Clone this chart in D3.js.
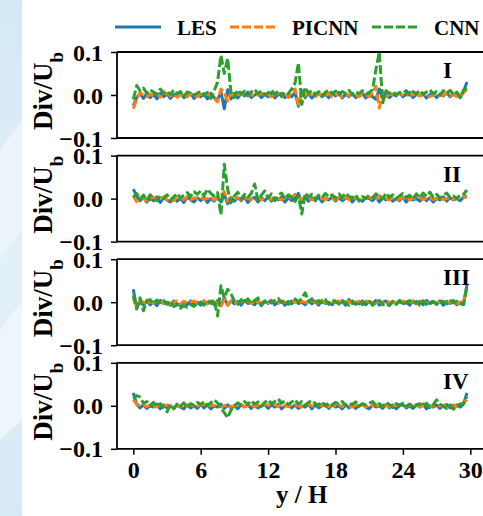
<!DOCTYPE html>
<html>
<head>
<meta charset="utf-8">
<script src="https://cdn.jsdelivr.net/npm/d3@7"></script>
<style>
  body { margin: 0; background: #fff; }
  text { font-family: "Liberation Serif", "Times New Roman", serif; font-weight: bold; }
</style>
</head>
<body>
<div id="fig"></div>
<script>
// values in units of 1e-3 (Div/Ub), sampled every 0.3 y/H from 0 to 29.7
var panels = ["I", "II", "III", "IV"];
var seriesNames = ["LES", "PICNN", "CNN"];
var xTicks = [0, 6, 12, 18, 24, 30];
var yTicks = [-0.1, 0.0, 0.1];
var yH = d3.range(0, 100).map(i => +(i * 0.3).toFixed(1));

var les1 = [-25,-6,4,-8,3,-6,1,-9,4,-4, 2,-8,1,-4,6,-6,-2,4,-8,0, -4,3,-9,4,-6,-12,8,-32,12,-9,
  4,-7,5,-2,7,-6,0,4,-6,2, -4,5,-7,1,4,-6,2,-4,6,-26, 10,-6,4,-7,1,5,-4,2,-6,4,
  -2,6,-7,2,-4,4,-6,1,4,-7, 2,-4,-10,14,-8,4,-6,2,-2,5, -4,1,6,-6,2,-2,4,-7,1,4, -6,2,-2,5,-4,1,4,-6,8,30];
var pic1 = [-32,-10,5,0,-4,2,-2,4,-5,1, 4,-2,2,-5,0,4,-4,2,0,-4, 2,-2,4,-5,-8,-16,14,6,-14,5,
  -4,2,0,4,-2,2,-4,1,4,-2, 2,-4,0,4,-2,5,-6,10,14,-22, 6,-2,4,0,-4,2,0,-2,4,-4,
  2,0,-4,4,-2,2,0,-4,2,0, -4,6,20,-30,8,-4,2,0,-2,4, 0,-2,2,0,4,-2,0,2,-4,0, 2,-2,0,4,-2,2,-4,0,5,14];
var cnn1 = [-10,22,10,16,4,12,7,2,14,5, 9,1,12,3,8,-4,7,5,0,4, 9,-2,6,-8,10,30,92,50,85,5,
  -6,12,2,9,-2,7,13,3,10,0, 5,12,2,9,-4,7,3,14,28,75, -22,18,4,11,1,8,-2,6,12,3,
  9,1,8,4,11,0,7,3,10,2, 6,12,60,100,-18,10,3,8,1,6, 4,10,0,8,3,11,1,7,12,3, 8,0,10,4,11,1,7,-6,12,14];

var les2 = [22,6,-5,3,-8,0,-5,4,-9,2, -3,-8,3,-6,0,-9,4,-3,-8,2, -5,3,-9,0,-6,4,-8,10,-12,3,
  -6,2,-5,4,-9,0,3,-8,2,-5, 4,-6,0,-3,3,-8,2,-5,0,12, -9,3,-6,2,-5,4,-8,0,-3,4,
  -6,2,-5,0,3,-8,2,-3,-6,3, 0,-5,4,-8,2,-3,3,-6,0,-5, 3,-8,2,-3,0,-6,3,-5,2,-8, 0,-3,4,-6,2,-3,0,-5,3,6];
var pic2 = [6,-7,3,0,-5,2,3,-3,0,4, -3,2,-5,3,0,-2,4,-3,2,0, 3,-2,0,4,-3,2,6,16,-6,3,
  0,2,-3,3,0,-2,3,2,-3,0, 2,-2,3,0,-3,2,0,3,10,4, -2,2,0,-3,2,3,0,-2,2,0,
  -3,2,0,3,-2,0,2,-3,0,2, 3,0,-2,7,2,0,-3,2,0,-2, 2,0,-3,2,0,3,-2,0,2,-2, 0,3,-2,0,2,-2,3,0,2,4];
var cnn2 = [3,12,-2,8,-4,9,1,-5,6,0, 9,-4,4,12,1,8,14,5,16,10, 18,7,22,12,6,14,-38,80,22,-10,
  6,15,-1,10,3,12,34,-4,8,18, 2,11,-5,8,13,-1,9,3,-7,6, -36,13,4,10,-1,8,2,12,4,9,
  1,11,3,13,5,2,9,-6,5,0, 8,2,11,4,-1,13,3,9,1,6, 12,3,8,-1,11,2,13,5,15,3, 10,1,8,13,2,6,0,9,10,20];

var les3 = [30,-14,4,-7,3,-6,1,-8,4,-3, 0,-7,3,-4,-8,2,-6,3,-4,0, -7,3,-4,2,-6,4,-8,10,-7,3,
  -4,2,-7,4,-3,0,-6,3,-8,2, -3,4,-6,0,3,-7,2,-4,6,-3, 0,-6,3,-4,2,-7,4,-3,0,-6,
  3,-4,2,-7,6,-3,0,-4,3,-6, 2,-3,4,-7,0,3,-6,2,-4,4, -3,0,-7,3,-4,2,-6,4,-3,0, -4,3,-7,2,-3,4,-6,0,-4,40];
var pic3 = [10,-9,3,0,-4,2,-3,3,0,-2, 2,-3,0,3,-4,2,-2,0,3,-3, 0,2,-3,3,-2,0,-9,6,-7,3,
  0,-2,2,0,3,-3,2,0,-2,3, -2,0,3,-3,2,0,-2,3,0,-2, 2,0,-3,3,0,-2,2,0,-3,2,
  0,3,-2,0,2,-3,0,2,-2,3, 0,-2,2,0,-3,3,0,-2,2,0, 3,-2,0,2,-3,0,3,-2,0,2, -2,0,3,-2,0,2,-3,0,3,30];
var cnn3 = [16,-16,10,-20,4,6,-4,5,-1,4, -5,3,-10,-7,-14,-8,-12,-5,-10,-3, 0,-7,4,-3,6,-32,38,10,30,20,
  2,-5,6,-1,8,-3,4,10,-6,3, 6,-2,4,9,-1,5,-5,3,8,1, 9,22,2,8,-3,4,-1,6,-5,5,
  1,-4,4,-1,-7,3,-5,2,-6,0, 3,-7,-1,4,-6,-3,-8,2,-5,3, -6,0,4,-4,2,-7,3,-5,0,2, -5,3,0,-4,4,-2,2,-3,-6,38];

var les4 = [30,3,-5,2,-6,0,-3,4,-7,2, -5,0,-6,3,-3,-7,2,-5,0,-6, 3,-5,2,-7,0,-3,4,-6,2,-5,
  0,-7,3,-3,2,-6,4,-5,0,3, -6,2,-3,4,-7,0,3,-5,2,-6, 0,-3,4,-7,2,-5,0,3,-6,2,
  -3,0,-7,3,-5,2,-6,0,4,-3, -7,2,-3,0,-6,3,-5,2,-7,0, 3,-5,0,-6,2,-3,4,-7,0,-3, 2,-6,0,3,-5,-2,2,-3,4,30];
var pic4 = [14,4,0,3,-2,2,0,-3,3,0, 2,-2,3,0,-3,2,0,3,-2,0, 2,3,-2,4,0,2,-3,0,3,-2,
  0,3,2,-2,0,3,-3,2,0,4, 2,0,3,-2,4,0,-2,3,2,0, -3,2,4,0,-2,3,0,2,-2,3,
  0,2,-2,3,0,-3,2,0,3,-2, 2,0,3,-2,0,2,-3,0,2,3, 0,-2,2,0,3,-2,0,3,-2,0, 2,0,-2,3,0,2,-2,4,6,15];
var cnn4 = [16,24,20,6,10,1,8,-2,5,-5, -14,3,-7,4,-1,7,-4,5,1,8, 3,10,1,7,14,7,-6,-16,-28,-10,
  0,7,2,10,3,12,4,9,-1,8, 14,5,10,16,6,12,3,9,14,4, 10,1,8,12,5,2,10,-1,6,2,
  8,4,10,0,6,3,9,-1,5,2, 6,10,0,5,-2,8,3,-4,5,1, 6,-1,4,-5,2,5,-1,6,-4,3, 14,4,-1,-6,2,-8,0,4,6,22];

var panelData = [[les1, pic1, cnn1], [les2, pic2, cnn2], [les3, pic3, cnn3], [les4, pic4, cnn4]];
var colors = ["#1f77b4", "#ff7f0e", "#2ca02c"];
var dashes = [null, "9,3", "9,3"];

var W = 483, H = 516;
var svg = d3.select("#fig").append("svg")
    .attr("width", W).attr("height", H);

// pale blue backdrop strip on the left
var grad = svg.append("defs").append("linearGradient")
    .attr("id", "bg").attr("x1", 0).attr("y1", 0).attr("x2", 0).attr("y2", 1);
grad.append("stop").attr("offset", "0%").attr("stop-color", "#d3e8f5");
grad.append("stop").attr("offset", "50%").attr("stop-color", "#e2f0f8");
grad.append("stop").attr("offset", "100%").attr("stop-color", "#d6eaf6");
svg.append("rect").attr("x", 0).attr("y", 0).attr("width", 22).attr("height", H).attr("fill", "url(#bg)");
svg.append("polygon").attr("points", "0,150 22,120 22,230 0,260").attr("fill", "#eaf4fa");
svg.append("polygon").attr("points", "0,330 22,300 22,420 0,440").attr("fill", "#edf6fb");

var left = 117, top0 = 52, ph = 86, gap = 17.6;
var x = d3.scaleLinear().domain([0, 30]).range([133.3, 470.3]);

panels.forEach(function(name, p) {
  var t = top0 + p * (ph + gap);
  var y = d3.scaleLinear().domain([-0.1, 0.1]).range([t + ph, t]);
  var g = svg.append("g");

  g.append("clipPath").attr("id", "clip" + p)
    .append("rect").attr("x", left).attr("y", t).attr("width", W).attr("height", ph);

  var line = d3.line().x((d, i) => x(yH[i])).y(d => y(d / 1000));
  panelData[p].forEach(function(vals, s) {
    g.append("path")
      .datum(vals)
      .attr("d", line)
      .attr("clip-path", "url(#clip" + p + ")")
      .attr("fill", "none")
      .attr("stroke", colors[s])
      .attr("stroke-width", 3)
      .attr("stroke-dasharray", dashes[s])
      .attr("stroke-linejoin", "round");
  });

  // frame
  g.append("line").attr("x1", left).attr("x2", W + 5).attr("y1", t).attr("y2", t)
    .attr("stroke", "#000").attr("stroke-width", 1.8);
  g.append("line").attr("x1", left).attr("x2", W + 5).attr("y1", t + ph).attr("y2", t + ph)
    .attr("stroke", "#000").attr("stroke-width", 1.8);

  var yAxis = g.append("g").attr("transform", "translate(" + left + ",0)")
    .call(d3.axisLeft(y).tickValues(yTicks).tickSize(6).tickPadding(8)
      .tickFormat(d => d3.format(".1f")(d).replace("-", "\u2212")));
  yAxis.select(".domain").attr("stroke-width", 1.8).attr("d", "M0," + t + "V" + (t + ph));
  yAxis.selectAll(".tick line").attr("stroke-width", 1.5);
  yAxis.selectAll(".tick text").style("font-size", "24px").attr("fill", "#000")
    .attr("dy", "0.34em");

  g.append("text")
    .attr("transform", "translate(52," + (t + ph / 2 - 4) + ") rotate(-90)")
    .attr("text-anchor", "middle")
    .style("font-size", "27px")
    .text("Div/U")
    .append("tspan").attr("baseline-shift", "sub").style("font-size", "19px").text("b");

  g.append("text").attr("x", 443).attr("y", t + 26)
    .style("font-size", "23px").text(name);

  if (p === panels.length - 1) {
    var xAxis = g.append("g").attr("transform", "translate(0," + (t + ph) + ")")
      .call(d3.axisBottom(x).tickValues(xTicks).tickSize(6).tickPadding(6));
    xAxis.select(".domain").remove();
    xAxis.selectAll(".tick line").attr("stroke-width", 1.5);
    xAxis.selectAll(".tick text").style("font-size", "24px").attr("fill", "#000");
    g.append("text").attr("x", x(15)).attr("y", 503)
      .attr("text-anchor", "middle").style("font-size", "25px").text("y / H");
  }
});

// legend
var legX = [115, 230, 372];
seriesNames.forEach(function(n, s) {
  svg.append("line").attr("x1", legX[s]).attr("x2", legX[s] + 46)
    .attr("y1", 27).attr("y2", 27)
    .attr("stroke", colors[s]).attr("stroke-width", 3)
    .attr("stroke-dasharray", dashes[s]);
  svg.append("text").attr("x", legX[s] + 62).attr("y", 35)
    .style("font-size", "21px").text(n);
});
</script>
</body>
</html>
